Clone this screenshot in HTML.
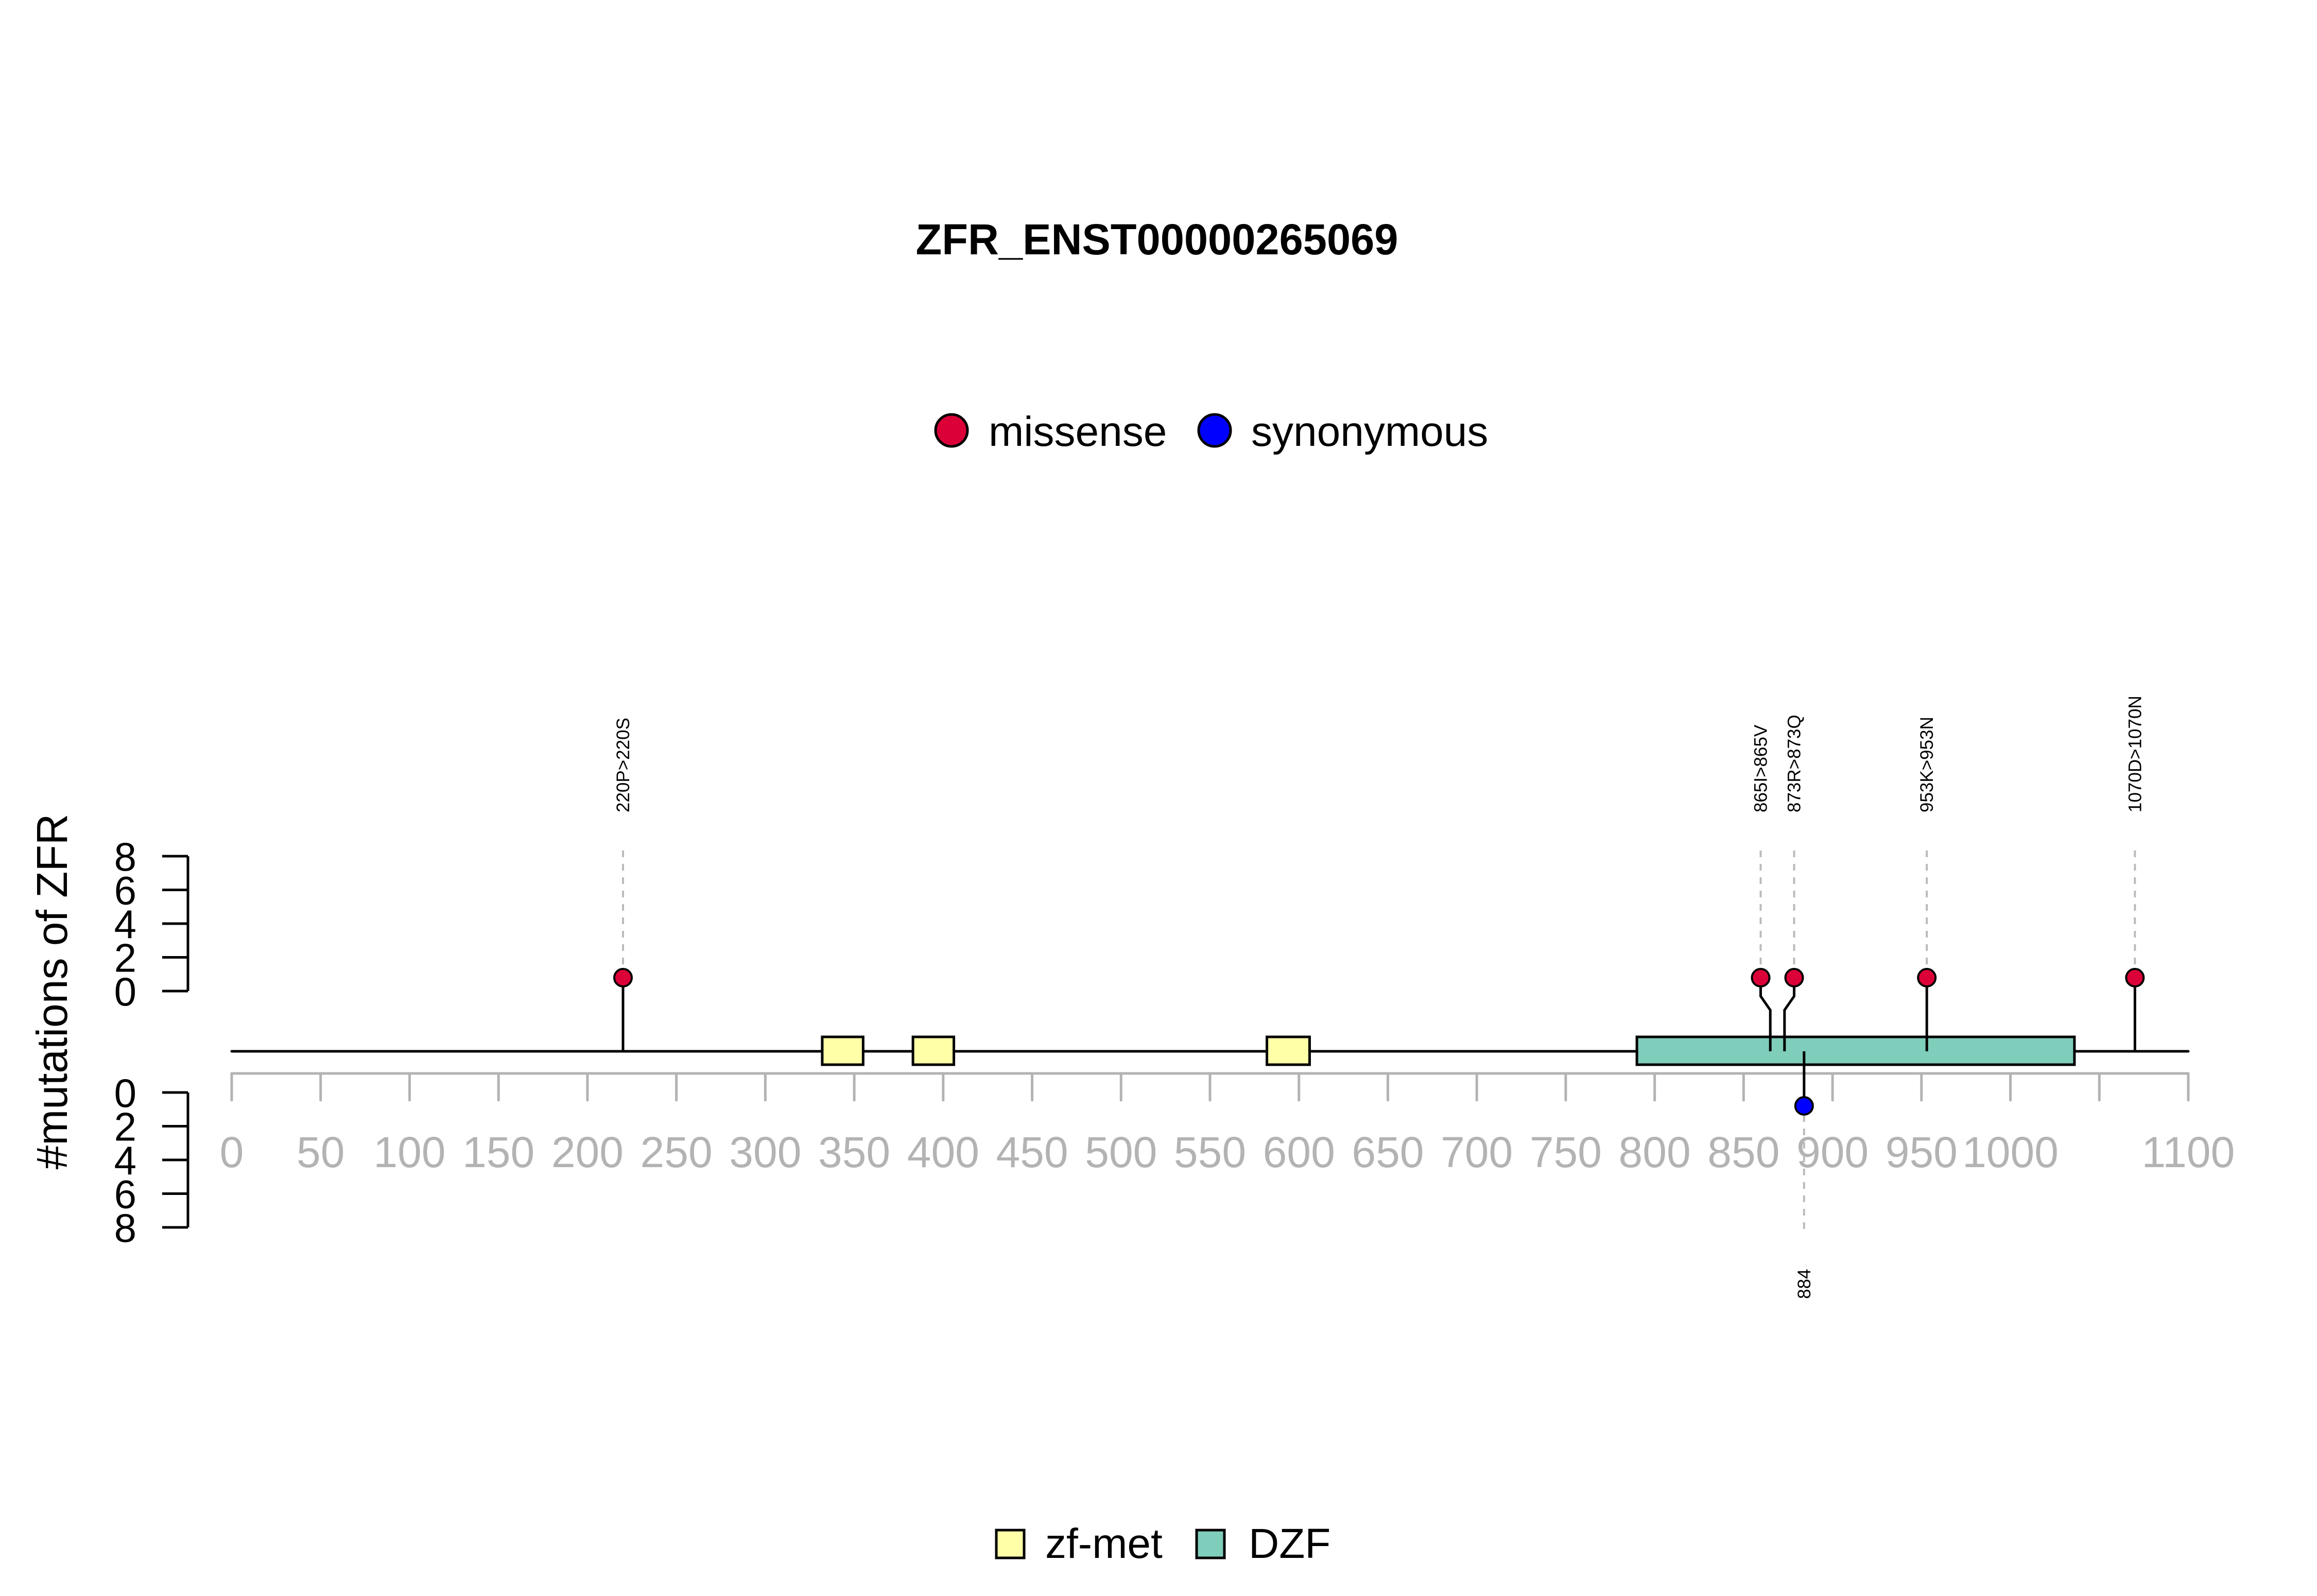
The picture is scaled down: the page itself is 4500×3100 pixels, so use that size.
<!DOCTYPE html>
<html><head><meta charset="utf-8"><style>
html,body{margin:0;padding:0;background:#fff;}
svg{display:block;font-family:"Liberation Sans",Arial,sans-serif;}
</style></head><body>
<svg id="chart" width="4500" height="3100" viewBox="0 0 4500 3100" xmlns="http://www.w3.org/2000/svg">
<rect width="4500" height="3100" fill="#fff"/>
<text x="2247" y="494" font-size="84" font-weight="bold" text-anchor="middle" textLength="937" lengthAdjust="spacingAndGlyphs">ZFR_ENST00000265069</text>
<g>
<circle cx="1848" cy="836" r="31" fill="#DC0039" stroke="#000" stroke-width="5"/>
<text x="1920" y="866" font-size="82">missense</text>
<circle cx="2359" cy="836" r="31" fill="#0000FF" stroke="#000" stroke-width="5"/>
<text x="2430" y="866" font-size="82">synonymous</text>
</g>
<text transform="translate(130,1926) rotate(-90)" font-size="84" text-anchor="middle">#mutations of ZFR</text>
<g>
<rect x="1935" y="2972" width="54" height="54" fill="#FFFFA8" stroke="#000" stroke-width="5"/>
<text x="2030" y="3026" font-size="82">zf-met</text>
<rect x="2324" y="2972" width="54" height="54" fill="#7FCDBB" stroke="#000" stroke-width="5"/>
<text x="2425" y="3026" font-size="82">DZF</text>
</g>
<g id="plot"></g>
</svg>
<script>
const xTicks = [0,50,100,150,200,250,300,350,400,450,500,550,600,650,700,750,800,850,900,950,1000,1050,1100];
const xTickLabels = ["0","50","100","150","200","250","300","350","400","450","500","550","600","650","700","750","800","850","900","950","1000","","1100"];
const yTicks = [0,2,4,6,8];
const proteinLength = 1100;
const domainNames = ["zf-met","zf-met","zf-met","DZF"];
const domainStarts = [332,383,582,790];
const domainEnds = [355,406,606,1036];
const missensePositions = [220,865,873,953,1070];
const missenseCounts = [1,1,1,1,1];
const missenseLabels = ["220P>220S","865I>865V","873R>873Q","953K>953N","1070D>1070N"];
const synonymousPositions = [884];
const synonymousCounts = [1];
const synonymousLabels = ["884"];

const NS = "http://www.w3.org/2000/svg";
const plot = document.getElementById("plot");
const X0 = 450, X1 = 4250, GENE_Y = 2042, UP0 = 1925, DN0 = 2122, YUNIT = 32.75, CUNIT = 26;
function xs(v){ return X0 + (X1 - X0) * v / proteinLength; }
function yUp(v){ return UP0 - v * YUNIT; }
function yDn(v){ return DN0 + v * YUNIT; }
function mk(tag, attrs, parent){
  const e = document.createElementNS(NS, tag);
  for (const k in attrs) e.setAttribute(k, attrs[k]);
  (parent || plot).appendChild(e);
  return e;
}
let g = mk("g", {});


mk("line", {x1:365, x2:365, y1:yUp(0), y2:yUp(8), stroke:"#000", "stroke-width":5}, g);
yTicks.forEach(t => {
  const l = mk("line", {x1:315, x2:365, y1:yUp(t), y2:yUp(t), stroke:"#000", "stroke-width":5}, g);
  
  
  const tx = mk("text", {x:265, y:yUp(t) + 28, "font-size":78, "text-anchor":"end"}, g);
  tx.textContent = t;
  
  
});
g = mk("g", {});


mk("line", {x1:365, x2:365, y1:yDn(0), y2:yDn(8), stroke:"#000", "stroke-width":5}, g);
yTicks.forEach(t => {
  const l = mk("line", {x1:315, x2:365, y1:yDn(t), y2:yDn(t), stroke:"#000", "stroke-width":5}, g);
  
  
  const tx = mk("text", {x:265, y:yDn(t) + 28, "font-size":78, "text-anchor":"end"}, g);
  tx.textContent = t;
  
  
});
g = mk("g", {});


mk("line", {x1:xs(0), x2:xs(proteinLength), y1:2085, y2:2085, stroke:"#b3b3b3", "stroke-width":5, "stroke-linecap":"round"}, g);
xTicks.forEach((t, i) => {
  const l = mk("line", {x1:xs(t), x2:xs(t), y1:2085, y2:2137, stroke:"#b3b3b3", "stroke-width":5, "stroke-linecap":"round"}, g);
  
  
  if (xTickLabels[i]) {
    const tx = mk("text", {x:xs(t), y:2267, "font-size":84, fill:"#b3b3b3", "text-anchor":"middle"}, g);
    tx.textContent = xTickLabels[i];
    
    
  }
});
const bb = mk("line", {x1:xs(0), x2:xs(proteinLength), y1:GENE_Y, y2:GENE_Y, stroke:"#000", "stroke-width":5, "stroke-linecap":"round"});


domainStarts.forEach((s, i) => {
  const r = mk("rect", {x:xs(s), y:2014, width:xs(domainEnds[i]) - xs(s), height:54,
    fill: domainNames[i] === "DZF" ? "#7FCDBB" : "#FFFFA8", stroke:"#000", "stroke-width":5});
  
  
});
function spread(pos){
  const hx = pos.map(xs);
  const minSep = 65;
  for (let i = 1; i < hx.length; i++) {
    if (hx[i] - hx[i-1] < minSep) {
      const c = (xs(pos[i]) + xs(pos[i-1])) / 2;
      hx[i-1] = c - minSep/2; hx[i] = c + minSep/2;
    }
  }
  return hx;
}
const mhx = spread(missensePositions);
missensePositions.forEach((p, i) => {
  const sx = xs(p), hx = mhx[i], cy = UP0 - missenseCounts[i] * CUNIT;
  const gg = mk("g", {});
  
  
  let d;
  if (Math.abs(hx - sx) > 1) d = `M${sx},${GENE_Y} L${sx},1962 L${hx},1935 L${hx},${cy}`;
  else d = `M${sx},${GENE_Y} L${sx},${cy}`;
  mk("path", {d:d, fill:"none", stroke:"#000", "stroke-width":5}, gg);
  mk("line", {x1:hx, x2:hx, y1:1652, y2:cy - 18, stroke:"#bbbbbb", "stroke-width":4, "stroke-dasharray":"13 13"}, gg);
  mk("circle", {cx:hx, cy:cy, r:17, fill:"#DC0039", stroke:"#000", "stroke-width":4}, gg);
  const tx = mk("text", {transform:`translate(${hx + 12},1578) rotate(-90)`, "font-size":35}, gg);
  tx.textContent = missenseLabels[i];
  
  
});
const shx = spread(synonymousPositions);
synonymousPositions.forEach((p, i) => {
  const sx = xs(p), hx = shx[i], cy = DN0 + synonymousCounts[i] * CUNIT;
  const gg = mk("g", {});
  
  
  mk("path", {d:`M${sx},${GENE_Y} L${hx},${cy}`, fill:"none", stroke:"#000", "stroke-width":5}, gg);
  mk("line", {x1:hx, x2:hx, y1:cy + 18, y2:2395, stroke:"#bbbbbb", "stroke-width":4, "stroke-dasharray":"13 13"}, gg);
  mk("circle", {cx:hx, cy:cy, r:17, fill:"#0000FF", stroke:"#000", "stroke-width":4}, gg);
  const tx = mk("text", {transform:`translate(${hx + 12},2523) rotate(-90)`, "font-size":35}, gg);
  tx.textContent = synonymousLabels[i];
  
  
});
</script>
</body></html>
